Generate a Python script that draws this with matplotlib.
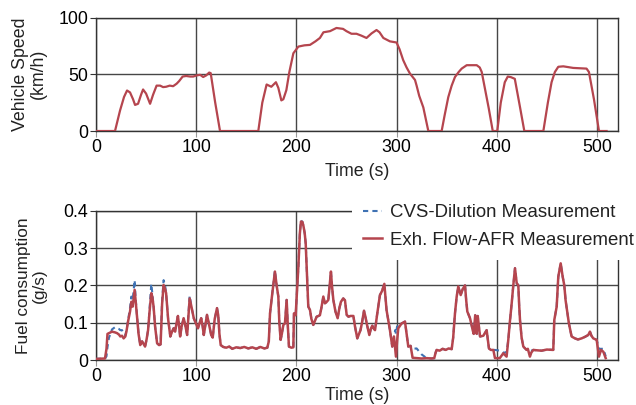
import matplotlib.pyplot as plt

plt.rcParams['font.family'] = ['Liberation Sans', 'DejaVu Sans']
plt.rcParams['font.size'] = 12.8
plt.rcParams['text.color'] = '#222222'
plt.rcParams['axes.labelcolor'] = '#222222'

# vehicle speed trace (s, km/h)
speed_t = [0, 19, 24, 28, 31, 34, 37, 39, 42, 45, 47, 50, 54, 57, 60.5, 64, 67, 70, 73.6, 77,
           80.5, 83, 86.5, 90, 94, 97, 100.5, 104, 107, 110, 113, 114.5, 119, 123.8, 162, 166,
           170.3, 175, 179.6, 182, 185, 187, 190, 193, 197, 202, 208, 213.6, 219, 223.5, 227,
           233.6, 240, 246.6, 250, 255, 260, 265, 270, 275, 280, 283, 286.8, 293.4, 300, 303,
           306.6, 310, 313.4, 318.4, 320, 322.6, 326.7, 331.7, 345, 348, 351.6, 355, 358.3, 362,
           365, 370, 380, 383, 385, 392, 396, 400.5, 404, 408, 411, 414, 418, 423, 427.5, 446.5,
           451, 454.7, 458, 461.4, 466.4, 476.3, 489.6, 492, 497, 502, 509.6]
speed = [0, 0, 18, 30, 35.7, 34, 28, 23, 24, 32, 36.6, 33, 24, 32, 40, 40, 38.7, 39, 40, 39.5,
         41.7, 44, 48, 48.5, 48, 48, 49, 49.5, 47.6, 49, 51.5, 51, 25, 0, 0, 25,
         41, 39, 43, 38, 27, 28, 36, 52, 68.5, 74.4, 75.5, 75.9, 79, 82, 87,
         88, 90.8, 90, 88, 85.7, 85.7, 84, 82, 86, 89, 87, 82, 79, 78, 72,
         62.5, 56, 50.6, 45, 40, 31, 20.8, 0, 0, 14, 29.8, 40, 47.6, 52,
         55, 58, 58, 56, 52, 20, 0, 0, 25, 43, 48, 47.5, 46, 22, 0, 0,
         25, 43, 52, 56.6, 57, 55.6, 55, 52, 28, 0, 0]

# fuel consumption (s, g/s)
fuel_t = [0, 9, 10.5, 11.5, 13, 16, 19, 21, 23, 24.3, 26, 27.6, 29.3, 30.5, 32, 34, 35.3, 36.6,
          38.6, 39.5, 41, 42.5, 44.2, 46, 47.5, 49, 50.5, 52, 53.5, 55.2, 56.2, 57.5, 59, 61, 63,
          64.5, 66, 67.5, 69, 70, 72, 74.2, 75.8, 77.5, 79, 80.5, 81.8, 83, 84, 85.5, 87.5, 89,
          91, 92.3, 93.5, 95.5, 97.6, 99.5, 101.8, 103.5, 105, 106.5, 107.6, 109, 110.8, 112.5,
          115, 116.5, 118.5, 120.8, 122, 123.2, 124.5, 127, 130, 133, 136, 140, 144, 148, 152,
          156, 160, 164, 168, 171, 172.5, 173.7, 176, 178.6, 180.3, 182, 183, 184.3, 185.5, 187,
          188.6, 189.5, 190.3, 191.5, 192.6, 195, 197, 197.6, 199.3, 200.5, 202, 203.5, 204.6,
          206, 207, 208.3, 209.3, 210.6, 211.9, 213.6, 215, 216.9, 218.5, 220.2, 222, 223.5,
          225, 226.9, 228.5, 230, 231.9, 233.2, 234.5, 235.5, 236.9, 239, 241.2, 243, 244.5,
          246.8, 248.5, 250.2, 252, 254, 256.9, 258.5, 260.8, 262.5, 264, 265.5, 267.5, 269,
          270.2, 272.8, 274.5, 275.8, 277, 278.5, 280.5, 283.4, 285.5, 287.8, 290, 291.5, 293.4,
          295.7, 297.4, 298.6, 299.4, 300.5, 301.7, 303, 305, 306.5, 308.4, 310, 311.7, 314, 316,
          320, 325, 330, 335, 337.6, 339, 340, 343, 346, 349, 352, 355, 356.5, 358.3, 360, 361.6,
          362.8, 364, 366, 368.3, 369.5, 370.6, 373.3, 376, 377, 378.5, 380, 381, 383.3, 386.6,
          389.9, 392.2, 394, 396.6, 398.2, 403, 406.5, 409.8, 411.5, 413, 414.9, 416.5, 418.2,
          419.9, 421.5, 422.3, 423.2, 424.8, 426.5, 429.8, 431, 433.1, 434.5, 436.5, 440, 444.8,
          450, 456.4, 457.4, 459.8, 461.4, 463.8, 465.8, 467.4, 468.7, 470.3, 472, 474.7, 478,
          481, 484.7, 488, 491.3, 493, 494.5, 496.3, 499.7, 502, 504, 506.4, 508.7]
fuel_afr = [0.003, 0.004, 0.03, 0.07, 0.072, 0.076, 0.074, 0.072, 0.068, 0.063, 0.065, 0.058,
            0.063, 0.078, 0.103, 0.13, 0.156, 0.143, 0.188, 0.16, 0.116, 0.07, 0.04, 0.05, 0.043,
            0.036, 0.055, 0.08, 0.13, 0.179, 0.17, 0.143, 0.09, 0.045, 0.04, 0.042, 0.15, 0.201,
            0.19, 0.179, 0.11, 0.063, 0.075, 0.085, 0.076, 0.1, 0.118, 0.09, 0.063, 0.09, 0.112,
            0.095, 0.067, 0.12, 0.165, 0.14, 0.112, 0.1, 0.085, 0.1, 0.112, 0.09, 0.067, 0.09,
            0.121, 0.1, 0.067, 0.06, 0.11, 0.139, 0.12, 0.07, 0.04, 0.035, 0.033, 0.036, 0.03,
            0.034, 0.032, 0.035, 0.031, 0.034, 0.03, 0.035, 0.031, 0.033, 0.05, 0.125, 0.179,
            0.237, 0.2, 0.17, 0.1, 0.054, 0.07, 0.094, 0.098, 0.13, 0.161, 0.09, 0.036, 0.033,
            0.034, 0.125, 0.12, 0.18, 0.25, 0.34, 0.371, 0.37, 0.36, 0.34, 0.313, 0.23, 0.143,
            0.134, 0.11, 0.094, 0.105, 0.116, 0.118, 0.12, 0.14, 0.17, 0.152, 0.155, 0.161, 0.2,
            0.237, 0.2, 0.161, 0.13, 0.112, 0.14, 0.156, 0.165, 0.16, 0.121, 0.116, 0.118, 0.118,
            0.09, 0.058, 0.07, 0.08, 0.1, 0.132, 0.115, 0.098, 0.067, 0.085, 0.092, 0.085, 0.08,
            0.12, 0.174, 0.185, 0.204, 0.134, 0.11, 0.08, 0.036, 0.063, 0.03, 0.009, 0.05, 0.085,
            0.09, 0.098, 0.1, 0.103, 0.07, 0.036, 0.038, 0.006, 0.005, 0.004, 0.005, 0.004, 0.005,
            0.02, 0.027, 0.025, 0.03, 0.027, 0.031, 0.029, 0.06, 0.125, 0.17, 0.197, 0.185, 0.174,
            0.19, 0.2, 0.16, 0.13, 0.112, 0.08, 0.07, 0.12, 0.07, 0.118, 0.063, 0.065, 0.08, 0.031,
            0.027, 0.027, 0.005, 0.005, 0.018, 0.009, 0.054, 0.1, 0.152, 0.2, 0.246, 0.206, 0.2,
            0.15, 0.107, 0.06, 0.036, 0.027, 0.03, 0.009, 0.02, 0.027, 0.026, 0.025, 0.028, 0.027,
            0.107, 0.143, 0.223, 0.259, 0.223, 0.2, 0.16, 0.13, 0.098, 0.063, 0.058, 0.055, 0.058,
            0.062, 0.067, 0.076, 0.065, 0.058, 0.054, 0.009, 0.027, 0.022, 0.005]
fuel_cvs = [0.003, 0.004, 0.01, 0.035, 0.06, 0.082, 0.088, 0.085, 0.083, 0.08, 0.08, 0.07,
            0.066, 0.08, 0.105, 0.14, 0.17, 0.16, 0.214, 0.17, 0.116, 0.07, 0.04, 0.05, 0.043,
            0.036, 0.055, 0.08, 0.14, 0.204, 0.18, 0.143, 0.09, 0.045, 0.04, 0.042, 0.16, 0.214,
            0.2, 0.179, 0.11, 0.063, 0.075, 0.085, 0.076, 0.1, 0.118, 0.09, 0.063, 0.09, 0.112,
            0.095, 0.067, 0.125, 0.172, 0.14, 0.112, 0.1, 0.085, 0.1, 0.112, 0.09, 0.067, 0.09,
            0.121, 0.1, 0.067, 0.06, 0.11, 0.139, 0.12, 0.07, 0.04, 0.035, 0.033, 0.036, 0.03,
            0.034, 0.032, 0.035, 0.031, 0.034, 0.03, 0.035, 0.031, 0.033, 0.05, 0.125, 0.179,
            0.24, 0.2, 0.17, 0.1, 0.054, 0.07, 0.094, 0.098, 0.13, 0.161, 0.09, 0.036, 0.033,
            0.034, 0.125, 0.12, 0.18, 0.25, 0.34, 0.374, 0.37, 0.36, 0.34, 0.313, 0.23, 0.143,
            0.134, 0.11, 0.094, 0.105, 0.116, 0.118, 0.12, 0.14, 0.17, 0.152, 0.155, 0.161, 0.2,
            0.237, 0.2, 0.161, 0.13, 0.112, 0.14, 0.156, 0.165, 0.16, 0.121, 0.116, 0.118, 0.118,
            0.09, 0.058, 0.07, 0.08, 0.1, 0.132, 0.115, 0.098, 0.067, 0.085, 0.092, 0.085, 0.08,
            0.12, 0.174, 0.185, 0.204, 0.134, 0.11, 0.08, 0.036, 0.063, 0.08, 0.07, 0.09, 0.09,
            0.09, 0.098, 0.1, 0.103, 0.07, 0.036, 0.038, 0.03, 0.031, 0.015, 0.005, 0.004, 0.005,
            0.02, 0.027, 0.025, 0.03, 0.027, 0.031, 0.029, 0.06, 0.125, 0.17, 0.197, 0.185, 0.174,
            0.19, 0.2, 0.16, 0.13, 0.112, 0.08, 0.07, 0.12, 0.07, 0.118, 0.063, 0.065, 0.08, 0.031,
            0.027, 0.027, 0.027, 0.025, 0.02, 0.02, 0.054, 0.1, 0.152, 0.2, 0.246, 0.206, 0.2,
            0.15, 0.107, 0.06, 0.036, 0.027, 0.03, 0.025, 0.025, 0.027, 0.026, 0.025, 0.028, 0.027,
            0.107, 0.143, 0.223, 0.259, 0.223, 0.2, 0.16, 0.13, 0.098, 0.063, 0.058, 0.055, 0.058,
            0.062, 0.067, 0.076, 0.065, 0.058, 0.054, 0.03, 0.03, 0.03, 0.01]

red = '#b5454e'
blue = '#3f72b3'
grid_col = '#474747'

fig = plt.figure(figsize=(6.36, 4.05), dpi=100)
ax1 = fig.add_axes([0.1509, 0.6765, 0.8208, 0.2802])
ax2 = fig.add_axes([0.1509, 0.1111, 0.8208, 0.3686])

ax1.plot(speed_t, speed, color=red, lw=1.6, zorder=3)
ax1.set_ylim(0, 100)
ax1.set_yticks([0, 50, 100])
ax1.set_ylabel('Vehicle Speed\n(km/h)', linespacing=1.0)
ax1.set_xlabel('Time (s)', labelpad=4.5)

ax2.plot(fuel_t, fuel_cvs, color=blue, lw=1.5, ls=(0, (2.5, 2)), zorder=3,
         label='CVS-Dilution Measurement')
ax2.plot(fuel_t, fuel_afr, color=red, lw=1.8, zorder=4, label='Exh. Flow-AFR Measurement')
ax2.set_ylim(0, 0.4)
ax2.set_yticks([0, 0.1, 0.2, 0.3, 0.4])
ax2.set_yticklabels(['0', '0.1', '0.2', '0.3', '0.4'])
ax2.set_ylabel('Fuel consumption\n(g/s)', linespacing=1.0, fontsize=12.4)
ax2.set_xlabel('Time (s)', labelpad=1)

for ax in (ax1, ax2):
    ax.set_xlim(0, 521)
    ax.set_xticks([0, 100, 200, 300, 400, 500])
    ax.yaxis.set_label_coords(-0.095, 0.5)
    ax.grid(True, color=grid_col, lw=1)
    ax.set_axisbelow(True)
    for s in ax.spines.values():
        s.set_color('#333333')
        s.set_linewidth(1)
    ax.tick_params(axis='y', direction='out', length=4.5, width=0.8, color='#333333', pad=1.2)
    ax.tick_params(axis='x', direction='out', length=4, width=0.8, color='#999999', pad=2)

leg = ax2.legend(loc='upper left', bbox_to_anchor=(352 / 636, 1 - 193 / 405),
                 bbox_transform=fig.transFigure, frameon=True, facecolor='white',
                 edgecolor='none', framealpha=1, fontsize=13.4, handlelength=1.0,
                 handletextpad=0.45, borderpad=0.6, labelspacing=0.57, borderaxespad=0)
leg.set_zorder(10)
leg.get_frame().set_boxstyle('square', pad=0)

fig.savefig('out.png', dpi=100)
